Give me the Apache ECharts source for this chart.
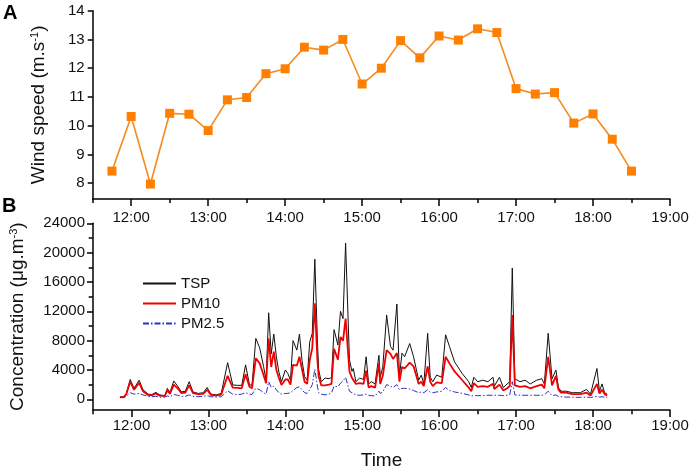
<!DOCTYPE html>
<html>
<head>
<meta charset="utf-8">
<title>Wind speed and particle concentration</title>
<script src="https://cdn.jsdelivr.net/npm/echarts@6/dist/echarts.min.js"></script>
<style>
  html, body { margin: 0; padding: 0; background: #fff; }
  #chart { width: 692px; height: 471px; }
</style>
</head>
<body>
<div id="chart"></div>
<script>
// ==================== 数据 ====================

// 时间轴（分钟，从 0:00 起算）
const hourTicks = [720, 780, 840, 900, 960, 1020, 1080, 1140];
const halfHourTicks = [690, 750, 810, 870, 930, 990, 1050, 1110];

// A: 风速（每 15 分钟）
const windTimes = [705, 720, 735, 750, 765, 780, 795, 810, 825, 840, 855, 870, 885, 900,
  915, 930, 945, 960, 975, 990, 1005, 1020, 1035, 1050, 1065, 1080, 1095, 1110];
const windSpeed = [8.42, 10.32, 7.97, 10.43, 10.4, 9.83, 10.9, 10.98, 11.81, 11.98, 12.73, 12.63, 13.0, 11.45,
  12.0, 12.96, 12.36, 13.12, 12.98, 13.37, 13.24, 11.29, 11.1, 11.15, 10.09, 10.41, 9.53, 8.42];
const windTicks = [8, 9, 10, 11, 12, 13, 14];

// B: 颗粒物浓度
const concTimes = [
  711, 714, 716, 719, 722, 726, 729, 733, 736, 739, 742, 746, 748, 750, 753, 756, 759, 762, 765, 768,
  772, 776, 779, 782, 786, 790, 795, 799, 803, 806, 809, 812, 814, 817, 820, 823, 825, 827, 829, 831,
  833, 835, 837, 840, 842, 844, 846, 849, 851, 853, 855, 857, 859, 861, 863, 865, 866, 868, 871, 874,
  876, 878, 881, 883, 885, 887, 890, 892, 893, 895, 898, 901, 903, 905, 907, 910, 913, 914, 916, 919,
  922, 924, 927, 929, 931, 933, 937, 940, 944, 946, 948, 951, 953, 955, 958, 962, 965, 968, 972, 978,
  983, 985, 987, 990, 994, 998, 1002, 1003, 1007, 1010, 1013, 1015, 1017, 1019, 1023, 1027, 1031, 1036, 1040, 1042,
  1045, 1048, 1051, 1053, 1055, 1059, 1064, 1070, 1075, 1078, 1083, 1085, 1087, 1089, 1091
];
const tspValues = [
  300, 350, 800, 2700, 1500, 2600, 1300, 700, 650, 950, 600, 500, 1500, 900, 2500, 1800, 1000, 1100, 2400, 1000,
  800, 900, 1600, 700, 600, 800, 5000, 1950, 1900, 1900, 4700, 2000, 1900, 8300, 7000, 4500, 2600, 11800, 6200, 8900,
  5800, 3700, 2400, 4000, 3500, 2600, 8000, 6700, 8900, 5300, 3100, 2600, 7800, 9000, 19100, 8100, 4000, 2400, 2900, 2800,
  3000, 9500, 7400, 12000, 11000, 21300, 5400, 3800, 4200, 2400, 2900, 2700, 5800, 2100, 2400, 2100, 6000, 3000, 4400, 11500,
  7200, 6700, 13000, 3200, 6300, 5800, 7600, 5800, 2600, 3300, 2100, 9000, 3000, 2400, 3300, 3000, 8800, 7200, 5100, 3500,
  2400, 1600, 3000, 2400, 2600, 2400, 3000, 1800, 3000, 1600, 2100, 2400, 17900, 2800, 2400, 2600, 2100, 2600, 2800, 2100,
  9000, 2800, 4000, 1600, 1100, 1100, 900, 900, 1350, 700, 4200, 1100, 2100, 900, 700
];
const pm10Values = [
  280, 300, 700, 2400, 1300, 2250, 1100, 600, 550, 800, 500, 450, 1200, 750, 2000, 1500, 850, 900, 1900, 850,
  700, 750, 1300, 600, 500, 650, 3200, 1600, 1550, 1500, 3400, 1700, 1500, 5600, 4900, 3300, 2200, 8300, 4400, 6500,
  4000, 2900, 1950, 2700, 2700, 2000, 4700, 4600, 5800, 4100, 2400, 2100, 5300, 7000, 13100, 5400, 3100, 1900, 1900, 2000,
  2100, 6900, 5400, 8500, 8000, 11000, 3800, 2900, 2950, 2100, 2200, 2100, 3900, 1600, 1800, 1600, 4900, 2100, 3200, 6700,
  6200, 5500, 6300, 2400, 4400, 4200, 5000, 4500, 2100, 2400, 1800, 4500, 2400, 1800, 2300, 2200, 5800, 4900, 3800, 2600,
  1600, 1100, 2200, 1700, 1800, 1700, 2100, 1400, 2000, 1200, 1500, 1800, 11500, 1900, 1700, 1800, 1500, 1800, 2000, 1500,
  5800, 1900, 3200, 1300, 900, 900, 700, 700, 900, 500, 2100, 800, 1300, 700, 500
];
const pm25Values = [
  250, 250, 400, 900, 700, 800, 600, 400, 350, 400, 300, 300, 450, 350, 650, 550, 400, 400, 600, 400,
  350, 400, 500, 350, 300, 350, 1150, 700, 650, 700, 900, 700, 650, 1500, 1300, 900, 700, 2400, 1600, 1800,
  1300, 900, 700, 800, 800, 900, 1200, 1600, 1700, 1300, 900, 800, 1300, 2000, 4100, 1800, 900, 700, 600, 700,
  900, 1800, 1700, 2200, 2500, 3000, 1100, 900, 800, 600, 550, 600, 700, 550, 500, 450, 1100, 800, 1000, 2000,
  1800, 1600, 2000, 1300, 1500, 1500, 1400, 1200, 900, 1000, 900, 1300, 1000, 900, 1000, 1100, 1600, 1200, 1000, 800,
  600, 450, 500, 500, 500, 550, 550, 500, 550, 500, 550, 600, 2400, 600, 550, 550, 550, 550, 550, 600,
  1100, 500, 600, 400, 350, 300, 280, 270, 300, 250, 400, 300, 350, 280, 250
];
const concTicks = [0, 4000, 8000, 12000, 16000, 20000, 24000];
const concMinorTicks = [2000, 6000, 10000, 14000, 18000, 22000];

// ==================== 工具函数 ====================

const FONT = '"Liberation Sans", Arial, sans-serif';

// 分钟转 hh:00
function formatClock(v) {
  const h = Math.floor(v / 60);
  const m = v % 60;
  return String(h).padStart(2, '0') + ':' + String(m).padStart(2, '0');
}

function pairs(xs, ys) {
  return xs.map((x, i) => [x, ys[i]]);
}

function tickLine() {
  return { color: '#000', width: 1.5 };
}

// 主刻度（带标签）的时间轴
function timeAxis(gridIndex, labelMargin, name) {
  return {
    type: 'value', gridIndex, position: 'bottom', min: 690, max: 1140,
    name: name || '', nameLocation: 'middle', nameGap: 41,
    nameTextStyle: { fontFamily: FONT, fontSize: 19, color: '#111' },
    axisLine: { show: true, onZero: false, lineStyle: tickLine() },
    axisTick: { show: true, length: 7, customValues: hourTicks, lineStyle: tickLine() },
    axisLabel: { customValues: hourTicks, formatter: formatClock, margin: labelMargin,
      fontFamily: FONT, fontSize: 15, color: '#111' },
    splitLine: { show: false }
  };
}

// 半小时次刻度（画在一个重叠的空网格上）
function halfHourAxis(gridIndex) {
  return {
    type: 'value', gridIndex, position: 'bottom', min: 690, max: 1140,
    axisLine: { show: false, onZero: false },
    axisTick: { show: true, length: 4, customValues: halfHourTicks, lineStyle: tickLine() },
    axisLabel: { show: false },
    splitLine: { show: false }
  };
}

// ==================== 图表 ====================

const chart = echarts.init(document.getElementById('chart'));

const topGrid = { left: 92.7, right: 22, top: 10.7, height: 188.3 };
const bottomGrid = { left: 92.7, right: 22, top: 223.3, height: 187 };

const option = {
  animation: false,
  backgroundColor: '#fff',
  textStyle: { fontFamily: FONT },
  graphic: [
    { type: 'text', left: 3, top: 3, style: { text: 'A', font: 'bold 20px ' + FONT, fill: '#000' } },
    { type: 'text', left: 2, top: 196, style: { text: 'B', font: 'bold 20px ' + FONT, fill: '#000' } }
  ],
  grid: [topGrid, bottomGrid, Object.assign({}, topGrid), Object.assign({}, bottomGrid)],
  legend: {
    orient: 'vertical', left: 137, top: 271,
    itemWidth: 33, itemHeight: 14, itemGap: 5,
    itemStyle: { opacity: 0 },
    textStyle: { fontFamily: FONT, fontSize: 15, color: '#111' },
    data: ['TSP', 'PM10', 'PM2.5']
  },
  xAxis: [
    timeAxis(0, 11),
    timeAxis(1, 8, 'Time'),
    halfHourAxis(2),
    halfHourAxis(3)
  ],
  yAxis: [
    {
      type: 'value', gridIndex: 0, position: 'left', min: 7.45, max: 14,
      name: 'Wind speed (m.s{sup|-1})', nameLocation: 'middle', nameGap: 44,
      nameTextStyle: { fontFamily: FONT, fontSize: 19, color: '#111',
        rich: { sup: { fontFamily: FONT, fontSize: 11, color: '#111', verticalAlign: 'top' } } },
      axisLine: { show: true, onZero: false, lineStyle: tickLine() },
      axisTick: { show: true, length: 5, customValues: windTicks, lineStyle: tickLine() },
      axisLabel: { customValues: windTicks, margin: 8, fontFamily: FONT, fontSize: 15, color: '#111' },
      splitLine: { show: false }
    },
    {
      type: 'value', gridIndex: 1, position: 'left', min: -1460, max: 24000,
      name: 'Concentration (μg.m{sup|-3})', nameLocation: 'middle', nameGap: 66,
      nameTextStyle: { fontFamily: FONT, fontSize: 19, color: '#111',
        rich: { sup: { fontFamily: FONT, fontSize: 11, color: '#111', verticalAlign: 'top' } } },
      axisLine: { show: true, onZero: false, lineStyle: tickLine() },
      axisTick: { show: true, length: 6, customValues: concTicks, lineStyle: tickLine() },
      axisLabel: { customValues: concTicks, formatter: v => String(v), margin: 8,
        fontFamily: FONT, fontSize: 15, color: '#111' },
      splitLine: { show: false }
    },
    { type: 'value', gridIndex: 2, show: false, min: 7.45, max: 14 },
    {
      type: 'value', gridIndex: 3, position: 'left', min: -1460, max: 24000,
      axisLine: { show: false, onZero: false },
      axisTick: { show: true, length: 4, customValues: concMinorTicks, lineStyle: tickLine() },
      axisLabel: { show: false },
      splitLine: { show: false }
    }
  ],
  series: [
    {
      name: 'Wind speed', type: 'line', xAxisIndex: 0, yAxisIndex: 0,
      data: pairs(windTimes, windSpeed),
      symbol: 'rect', symbolSize: 9,
      itemStyle: { color: '#FF8000' },
      lineStyle: { color: '#F58A1F', width: 1.6 }
    },
    {
      name: 'TSP', type: 'line', xAxisIndex: 1, yAxisIndex: 1,
      data: pairs(concTimes, tspValues),
      symbol: 'none', color: '#111',
      lineStyle: { color: '#111', width: 1 }
    },
    {
      name: 'PM10', type: 'line', xAxisIndex: 1, yAxisIndex: 1,
      data: pairs(concTimes, pm10Values),
      symbol: 'none', color: '#F00000',
      lineStyle: { color: '#F00000', width: 1.8 }
    },
    {
      name: 'PM2.5', type: 'line', xAxisIndex: 1, yAxisIndex: 1,
      data: pairs(concTimes, pm25Values),
      symbol: 'none', color: '#3030C0',
      lineStyle: { color: '#3030C0', width: 1, type: [6, 2, 1.5, 2] }
    }
  ]
};

chart.setOption(option);
</script>
</body>
</html>
